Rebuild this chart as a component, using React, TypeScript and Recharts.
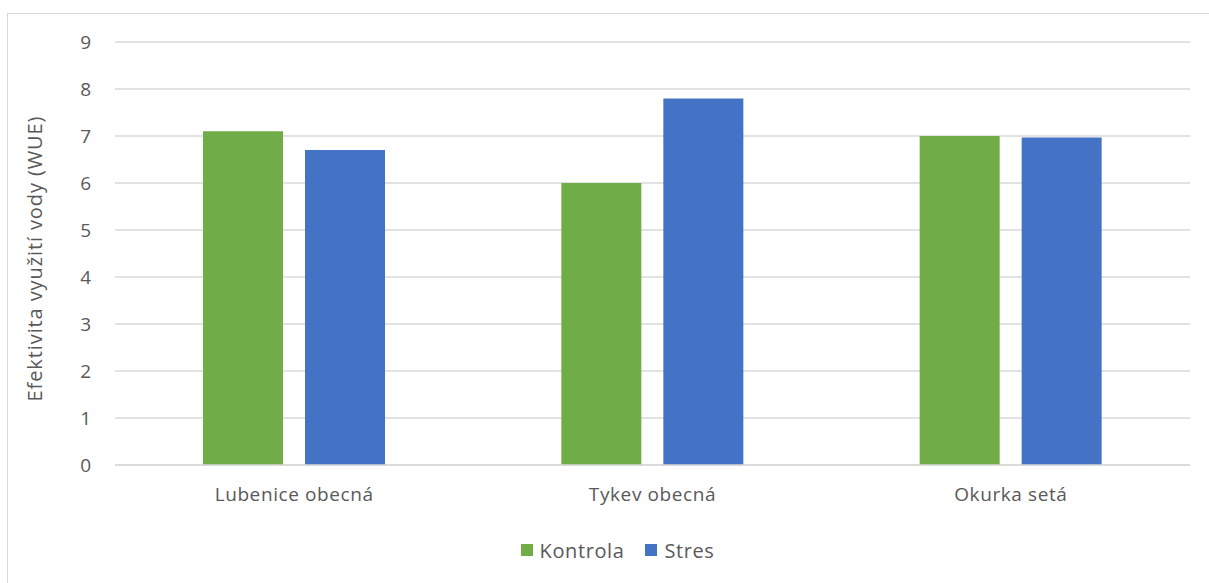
import React from 'react';
import { BarChart, Bar, XAxis, YAxis, CartesianGrid } from 'recharts';

const categories = ['Lubenice obecná', 'Tykev obecná', 'Okurka setá'];
const kontrola = [7.1, 6.0, 7.0];
const stres = [6.7, 7.8, 6.97];
const yTicks = [0, 1, 2, 3, 4, 5, 6, 7, 8, 9];
const series = [
  { key: 'kontrola', name: 'Kontrola', color: '#70AD47' },
  { key: 'stres', name: 'Stres', color: '#4472C4' },
];
const yLabel = 'Efektivita využití vody (WUE)';

const data = categories.map((c, i) => ({ name: c, kontrola: kontrola[i], stres: stres[i] }));

const FONT = '"Open Sans", sans-serif';
const TXT = '#595959';
const FS = 19;
const LS = 0.6;

const YLabel = (props: any) => {
  const vb = props.viewBox || {};
  const cx = (vb.x || 0) + 34;
  const cy = (vb.y || 0) + (vb.height || 0) / 2 + 5;
  return (
    <text
      x={cx}
      y={cy}
      transform={`rotate(-90, ${cx}, ${cy})`}
      textAnchor="middle"
      dominantBaseline="central"
      fill={TXT}
      fontSize={20}
      fontFamily={FONT}
      letterSpacing={0.9}
    >
      {yLabel}
    </text>
  );
};

export default function App() {
  return (
    <div style={{ position: 'absolute', left: 0, top: 0, width: 1209, height: 583, overflow: 'hidden', background: '#fff' }}>
      <div style={{ position: 'absolute', left: 7, top: 13, width: 1220, height: 600, border: '1px solid #d9d9d9', boxSizing: 'border-box' }} />
      <div style={{ position: 'absolute', left: 0, top: 0 }}>
        <BarChart width={1209} height={583} data={data} margin={{ top: 42, right: 19, bottom: 88, left: 0 }} barGap={22} barSize={80}>
          <CartesianGrid vertical={false} stroke="#d9d9d9" strokeWidth={1.3} />
          <XAxis
            dataKey="name"
            height={30}
            axisLine={{ stroke: '#d9d9d9', strokeWidth: 1.3 }}
            tickLine={false}
            tickSize={0}
            tickMargin={23}
            tick={{ fill: TXT, fontSize: FS, fontFamily: FONT, letterSpacing: LS }}
          />
          <YAxis
            width={115}
            domain={[0, 9]}
            ticks={yTicks}
            interval={0}
            axisLine={false}
            tickLine={false}
            tickSize={0}
            tickMargin={24}
            tick={{ fill: TXT, fontSize: FS, fontFamily: FONT }}
            label={<YLabel />}
          />
          {series.map((s) => (
            <Bar key={s.key} dataKey={s.key} name={s.name} fill={s.color} isAnimationActive={false} />
          ))}
        </BarChart>
      </div>
      <div
        style={{
          position: 'absolute',
          left: 13,
          width: 1209,
          top: 536,
          height: 28,
          display: 'flex',
          justifyContent: 'center',
          alignItems: 'center',
          fontFamily: FONT,
          fontSize: 20,
          letterSpacing: LS,
          color: TXT,
        }}
      >
        {series.map((s, i) => (
          <div key={s.key} style={{ display: 'flex', alignItems: 'center', marginLeft: i ? 21 : 0 }}>
            <div style={{ width: 12, height: 12, background: s.color, marginRight: 7 }} />
            <span>{s.name}</span>
          </div>
        ))}
      </div>
    </div>
  );
}
